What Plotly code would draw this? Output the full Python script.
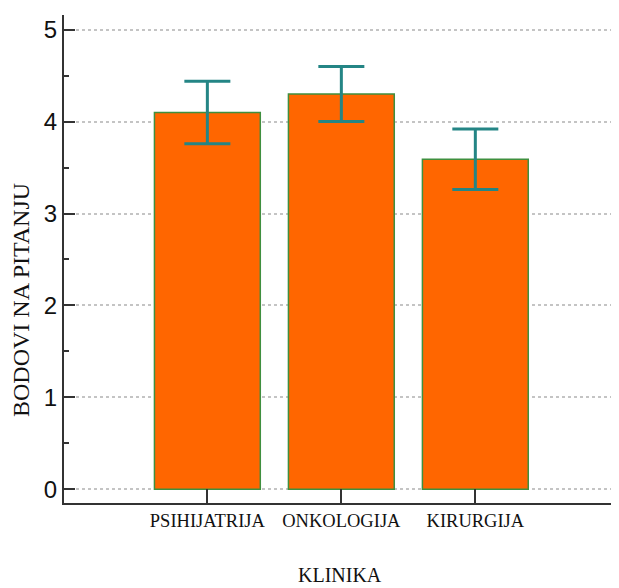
import plotly.graph_objects as go

categories = ["PSIHIJATRIJA", "ONKOLOGIJA", "KIRURGIJA"]
means = [4.10, 4.30, 3.59]
errors = [0.34, 0.30, 0.33]
y_ticks = [0, 1, 2, 3, 4, 5]

fig = go.Figure()
fig.add_trace(go.Bar(
    x=categories, y=means,
    marker=dict(color="#FF6600", line=dict(color="#3f8f3f", width=1.5)),
    error_y=dict(type="data", array=errors, visible=True,
                 color="#248585", thickness=3, width=23),
))

fig.update_layout(
    width=611, height=580,
    margin=dict(l=56, r=7, t=7, b=85),
    plot_bgcolor="white", paper_bgcolor="white",
    showlegend=False,
    bargap=0.21,
    xaxis=dict(
        range=[-1.07, 3.02],
        showline=True, linecolor="#333", linewidth=2,
        ticks="inside", ticklen=14, tickwidth=2, tickcolor="#333",
        tickfont=dict(family="Liberation Serif, Times New Roman, serif", size=18.5, color="#111"),
        showgrid=False, zeroline=False,
    ),
    yaxis=dict(
        range=[-0.15, 5.16],
        tickvals=y_ticks,
        showline=True, linecolor="#333", linewidth=2,
        ticks="inside", ticklen=11, tickwidth=2, tickcolor="#333",
        minor=dict(ticks="inside", dtick=0.5, ticklen=5, tickwidth=1.5, tickcolor="#333", showgrid=False),
        tickfont=dict(family="Liberation Sans Narrow, Arial Narrow, Liberation Sans, Arial, sans-serif", size=24, color="#111"),
        showgrid=True, gridcolor="#c4c4c4", gridwidth=2, griddash="dot",
        zeroline=False,
    ),
    annotations=[
        dict(text="KLINIKA", xref="paper", yref="paper", x=0.504, y=-0.1475,
             xanchor="center", yanchor="middle",
             showarrow=False, font=dict(family="Liberation Serif, Times New Roman, serif", size=20, color="#111")),
        dict(text="BODOVI NA PITANJU", xref="paper", yref="paper", x=-0.0785, y=0.416,
             xanchor="center", yanchor="middle",
             textangle=-90, showarrow=False,
             font=dict(family="Liberation Serif, Times New Roman, serif", size=24, color="#111")),
    ],
)

fig.write_html("out.html")
